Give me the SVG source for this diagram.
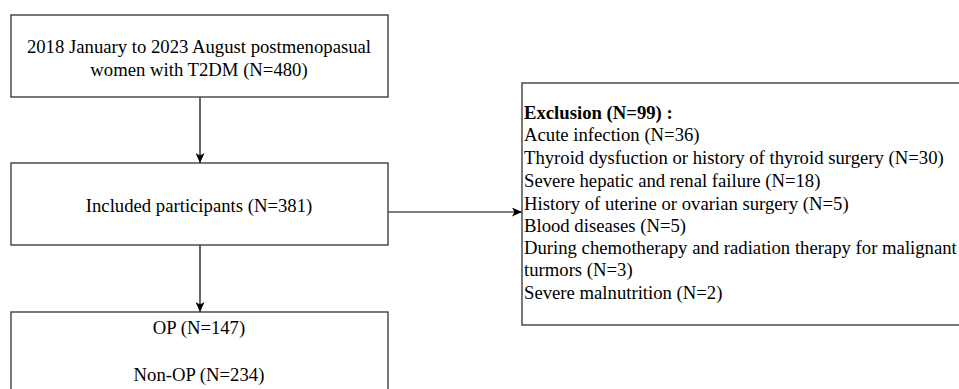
<svg xmlns="http://www.w3.org/2000/svg" width="959" height="389" viewBox="0 0 959 389">
<style>
.box{fill:#fff;stroke:#404040;stroke-width:1.4}
.t{font-family:'Liberation Serif','Times New Roman',serif;font-size:18.7px;fill:#000}
.c{text-anchor:middle}
.b{font-weight:bold}
.ln{stroke:#000;stroke-width:1.2;fill:none}
</style>
<defs>
<marker id="ah" viewBox="0 0 10 9" refX="10" refY="4.5" markerWidth="10" markerHeight="9" markerUnits="userSpaceOnUse" orient="auto">
<path d="M0,0 L10,4.5 L0,9 L2.5,4.5 z" fill="#000"/>
</marker>
</defs>
<rect width="959" height="389" fill="#fff"/>
<g id="connectors">
<line class="ln" x1="200" y1="97" x2="200" y2="163" marker-end="url(#ah)"/>
<line class="ln" x1="200" y1="245" x2="200" y2="312" marker-end="url(#ah)"/>
<line class="ln" x1="388" y1="212" x2="522" y2="212" marker-end="url(#ah)"/>
</g>
<g id="n1">
<rect class="box" x="11" y="15" width="377" height="82"/>
<text class="t c" x="199" y="53">2018 January to 2023 August postmenopasual</text>
<text class="t c" x="199" y="76">women with T2DM (N=480)</text>
</g>
<g id="n2">
<rect class="box" x="11" y="163" width="377" height="82"/>
<text class="t c" x="199" y="212">Included participants (N=381)</text>
</g>
<g id="n3">
<rect class="box" x="11" y="312" width="377" height="90"/>
<text class="t c" x="199" y="334">OP (N=147)</text>
<text class="t c" x="199" y="381">Non-OP (N=234)</text>
</g>
<g id="n4">
<rect class="box" x="522" y="83" width="450" height="242"/>
<text class="t b" x="524" y="119">Exclusion (N=99) :</text>
<text class="t" x="524" y="141">Acute infection (N=36)</text>
<text class="t" x="524" y="164">Thyroid dysfuction or history of thyroid surgery (N=30)</text>
<text class="t" x="524" y="187">Severe hepatic and renal failure (N=18)</text>
<text class="t" x="524" y="210">History of uterine or ovarian surgery (N=5)</text>
<text class="t" x="524" y="232">Blood diseases (N=5)</text>
<text class="t" x="524" y="254">During chemotherapy and radiation therapy for malignant</text>
<text class="t" x="524" y="276">turmors (N=3)</text>
<text class="t" x="524" y="299">Severe malnutrition (N=2)</text>
</g>
</svg>
